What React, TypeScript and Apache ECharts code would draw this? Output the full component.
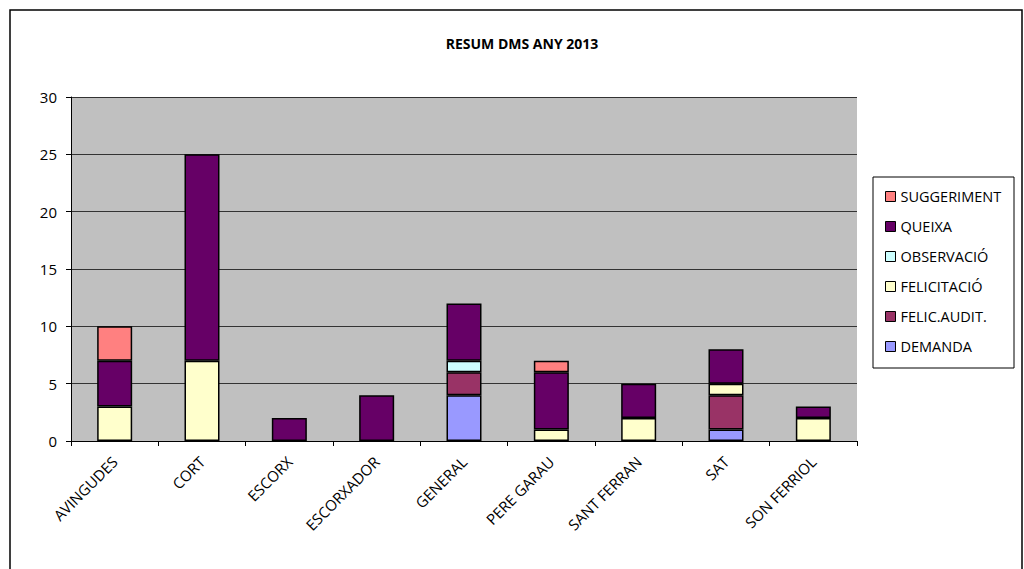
import React, { useEffect, useRef } from "react";
import * as echarts from "echarts";

const categories = ["AVINGUDES", "CORT", "ESCORX", "ESCORXADOR", "GENERAL", "PERE GARAU", "SANT FERRAN", "SAT", "SON FERRIOL"];
const demanda = [0, 0, 0, 0, 4, 0, 0, 1, 0];
const felicAudit = [0, 0, 0, 0, 2, 0, 0, 3, 0];
const felicitacio = [3, 7, 0, 0, 0, 1, 2, 1, 2];
const observacio = [0, 0, 0, 0, 1, 0, 0, 0, 0];
const queixa = [4, 18, 2, 4, 5, 5, 3, 3, 1];
const suggeriment = [3, 0, 0, 0, 0, 1, 0, 0, 0];

const seriesDefs = [
  { name: "DEMANDA", data: demanda, color: "#9999FF" },
  { name: "FELIC.AUDIT.", data: felicAudit, color: "#993366" },
  { name: "FELICITACIÓ", data: felicitacio, color: "#FFFFCC" },
  { name: "OBSERVACIÓ", data: observacio, color: "#CCFFFF" },
  { name: "QUEIXA", data: queixa, color: "#660066" },
  { name: "SUGGERIMENT", data: suggeriment, color: "#FF8080" },
];
const legendOrder = ["SUGGERIMENT", "QUEIXA", "OBSERVACIÓ", "FELICITACIÓ", "FELIC.AUDIT.", "DEMANDA"];

const FONT = "'Open Sans', Lato, sans-serif";

export default function App() {
  const ref = useRef<HTMLDivElement>(null);
  useEffect(() => {
    if (!ref.current) return;
    const chart = echarts.init(ref.current, null, { renderer: "svg" });
    chart.setOption({
      animation: false,
      backgroundColor: "#ffffff",
      textStyle: { fontFamily: FONT },
      title: {
        text: "RESUM DMS ANY 2013",
        left: 517,
        textAlign: "center",
        top: 31,
        textStyle: { fontSize: 14, fontWeight: "bold", color: "#000", fontFamily: FONT },
      },
      graphic: [
        {
          type: "rect",
          shape: { x: 10, y: 10, width: 1012, height: 600 },
          style: { fill: "none", stroke: "#000", lineWidth: 1.5 },
          silent: true,
        },
        {
          type: "rect",
          shape: { x: 873, y: 177, width: 141, height: 191 },
          style: { fill: "none", stroke: "#000", lineWidth: 1 },
          silent: true,
        },
      ],
      legend: {
        data: legendOrder,
        orient: "vertical",
        left: 880,
        top: 184,
        itemWidth: 10,
        itemHeight: 10,
        itemGap: 15,
        icon: "rect",
        textStyle: { fontSize: 14.5, color: "#000", fontFamily: FONT },
        itemStyle: { borderColor: "#000", borderWidth: 1 },
      },
      grid: { left: 71, right: 167, top: 97, bottom: 128, backgroundColor: "#C0C0C0", show: true, borderWidth: 0 },
      xAxis: {
        type: "category",
        data: categories,
        axisLine: { lineStyle: { color: "#000", width: 1 } },
        axisTick: { show: true, length: 5, lineStyle: { color: "#000" } },
        axisLabel: { rotate: 45, fontSize: 15, color: "#000", margin: 18, fontFamily: FONT },
      },
      yAxis: {
        type: "value",
        min: 0,
        max: 30,
        interval: 5,
        axisLine: { show: true, lineStyle: { color: "#000" } },
        axisTick: { show: true, length: 5, lineStyle: { color: "#000" } },
        axisLabel: { fontSize: 15, color: "#000", margin: 14, fontFamily: FONT },
        splitLine: { show: true, lineStyle: { color: "#333", width: 1 } },
      },
      series: seriesDefs.map((s) => ({
        name: s.name,
        type: "bar",
        stack: "total",
        barWidth: 35,
        data: s.data.map((v) => (v === 0 ? null : v)),
        itemStyle: { color: s.color, borderColor: "#000", borderWidth: 1.5 },
      })),
    });
    return () => chart.dispose();
  }, []);
  return <div ref={ref} style={{ width: 1024, height: 569, position: "absolute", left: 0, top: 0 }} />;
}
